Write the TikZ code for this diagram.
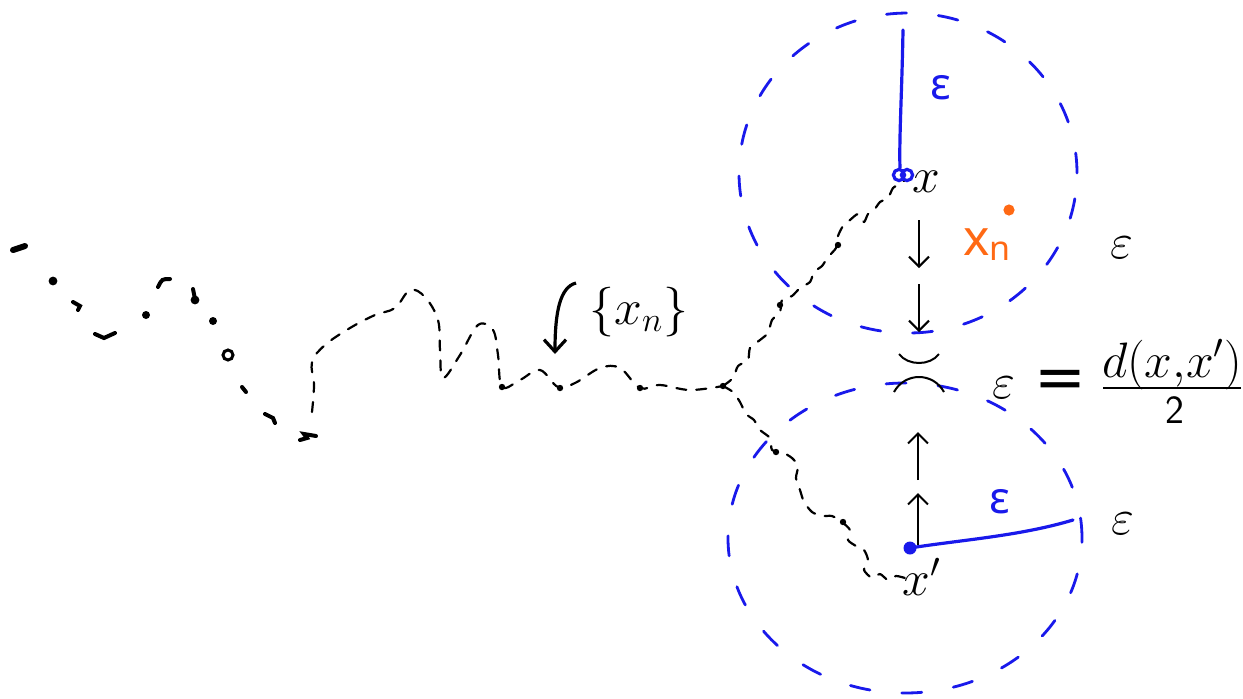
\documentclass[tikz,border=0pt]{standalone}
\usepackage{fontspec}
\newfontfamily\dv{DejaVu Sans}
\newfontfamily\hand{Noto Sans}
\usetikzlibrary{arrows.meta}
\definecolor{penblue}{RGB}{25,25,235}
\definecolor{penorange}{RGB}{255,105,20}
\begin{document}
\begin{tikzpicture}[x=0.5pt,y=-0.5pt,
  ball/.style={penblue, line width=1.4pt, dash pattern=on 10pt off 16pt, line cap=round},
  walk/.style={black, line width=1.1pt, dash pattern=on 5pt off 5pt, line cap=round, line join=round},
  speck/.style={black, line width=2pt, line cap=round},
  wdot/.style={circle, fill=black, inner sep=0pt, minimum size=3.2pt},
  lbl/.style={inner sep=0pt, font=\fontsize{25}{30}\selectfont},
  pen/.style={inner sep=0pt, font=\fontsize{22}{26}\selectfont\hand},
  flow/.style={black, line width=1pt, -{Straight Barb[length=5pt,width=10pt]}}]
\useasboundingbox (0,0) rectangle (1243,698);

% dashed balls
\draw[ball] (908,173) ellipse [x radius=84.5pt, y radius=80pt];
\draw[ball] (905,538) ellipse [x radius=88.5pt, y radius=77.5pt];

% scattered beginning of the sequence
\draw[speck, line width=3pt] (13,250) -- (25,246);
\fill (53,281) circle [radius=2.2pt];
\draw[speck] (73,302) -- (80,306) -- (78,310);
\draw[speck] (95,334) -- (104,338) -- (115,333);
\fill (146,315) circle [radius=2pt];
\draw[speck] (158,287) .. controls (162,279) .. (170,279);
\draw[speck] (193,289) -- (195,299);
\fill (195,300) circle [radius=2.2pt];
\fill (213,321) circle [radius=2pt];
\draw[speck, line width=1.5pt] (228,355) circle [radius=2.5pt];
\draw[speck] (242,387) -- (246,392);
\draw[speck] (265,414) -- (273,418) -- (275,423);
\draw[speck] (300,440) -- (307,438) -- (304,434) -- (316,436);

% the wiggly dashed path
\coordinate (split) at (723,386);
\draw[walk] plot[smooth, tension=0.6] coordinates {
  (312,412) (314,385) (312,362) (325,345) (350,328) (375,315) (395,308)
  (410,290) (425,297) (438,320) (440,350) (443,378) (460,355) (478,325)
  (493,330) (498,355) (502,387) (520,380) (540,370) (558,387) (575,383)
  (600,368) (620,368) (640,388) (660,385) (690,390) (723,386)};
\draw[walk] plot[smooth, tension=0.4] coordinates {
  (723,386) (733,378) (738,366) (748,360) (750,348) (760,340) (768,333)
  (772,320) (780,312) (782,300) (792,296) (800,288) (810,282) (814,272)
  (822,266) (828,257) (836,248) (838,236) (843,226) (850,220) (858,214)
  (864,222) (868,214) (874,210) (880,202) (888,198) (893,188) (900,184) (905,180)};
\draw[walk] plot[smooth, tension=0.4] coordinates {
  (723,386) (733,392) (740,402) (746,414) (754,420) (760,430) (770,438)
  (772,450) (782,452) (792,458) (798,466) (796,478) (800,490) (804,502)
  (812,512) (822,516) (832,516) (842,522) (850,530) (848,540) (856,546)
  (864,550) (868,560) (864,570) (872,578) (880,574) (888,580) (896,576) (905,578)};
\node[wdot] (w1) at (502,387) {};
\node[wdot] (w2) at (560,388) {};
\node[wdot] (w3) at (640,388) {};
\node[wdot] (w4) at (723,386) {};
\node[wdot] (w5) at (838,245) {};
\node[wdot] (w6) at (780,305) {};
\node[wdot] (w7) at (776,452) {};
\node[wdot] (w8) at (843,522) {};

% {x_n} label and its arrow
\node[lbl] (seq) at (639,312) {$\{x_n\}$};
\coordinate (seqtail) at (576,283);
\coordinate (seqtip) at (555,354);
\draw[black, line width=1.6pt, -{Straight Barb[length=6pt,width=11pt]}]
  (seqtail) .. controls (560,287) and (555,312) .. (seqtip);

% point x with its radius
\node[lbl] (x) at (926,182) {$x$};
\draw[penblue, line width=1.6pt] (899,175) circle [radius=2.8pt];
\draw[penblue, line width=1.6pt] (907,175) circle [radius=2.8pt];
\coordinate (rtop) at (903,30);
\coordinate (rx) at (900,168);
\draw[penblue, line width=1.6pt, line cap=round] (rtop) .. controls (902,90) and (899,140) .. (rx);
\node[pen, text=penblue] (epsA) at (941,88) {ε};

% arrows down
\coordinate (d1a) at (919,220); \coordinate (d1b) at (919,268);
\coordinate (d2a) at (919,284); \coordinate (d2b) at (919,332);
\draw[flow] (d1a) -- (d1b);
\draw[flow] (d2a) -- (d2b);

% the two arcs
\coordinate (c1l) at (899,354); \coordinate (c1r) at (939,354);
\coordinate (c2l) at (894,392); \coordinate (c2r) at (944,392);
\draw[black, line width=1pt] (c1l) .. controls (908,366) and (930,366) .. (c1r);
\draw[black, line width=1pt] (c2l) .. controls (905,372) and (933,372) .. (c2r);

% arrows up
\coordinate (u1a) at (918,480); \coordinate (u1b) at (918,432);
\coordinate (u2a) at (918,545); \coordinate (u2b) at (918,493);
\draw[flow] (u1a) -- (u1b);
\draw[flow] (u2a) -- (u2b);

% point x' with its radius
\node[circle, fill=penblue, inner sep=0pt, minimum size=6.5pt] (xp) at (910,548) {};
\node[lbl] (xplbl) at (922,577) {$x'$};
\coordinate (rend) at (1073,520);
\draw[penblue, line width=1.6pt, line cap=round] (xp.center) .. controls (960,540) and (1020,536) .. (rend);
\node[pen, text=penblue] (epsB) at (1000,502) {ε};

% orange x_n
\node[pen, text=penorange, font=\fontsize{25}{28}\selectfont\hand] (xn) at (977,242) {x};
\node[pen, text=penorange, font=\fontsize{17}{20}\selectfont\hand] (xnsub) at (1000,251) {n};
\fill[penorange] (1009,210) circle [radius=2.8pt];

% epsilons on the right
\node[lbl] (epsR1) at (1122,248) {$\varepsilon$};
\node[lbl] (epsR2) at (1123,524) {$\varepsilon$};

% the equation
\node[lbl] (epsEq) at (1004,388) {$\varepsilon$};
\node[inner sep=0pt, font=\fontsize{31}{36}\selectfont\dv] (eq) at (1060,384) {=};
\node[lbl, anchor=base] (num) at (1172,377) {$d(x{,}x')$};
\coordinate (fracL) at (1103,388);
\coordinate (fracR) at (1241,388);
\draw[black, line width=1.3pt] (fracL) -- (fracR);
\node[inner sep=0pt, font=\fontsize{20}{24}\selectfont\sffamily] (den) at (1175,410) {2};
\end{tikzpicture}
\end{document}
